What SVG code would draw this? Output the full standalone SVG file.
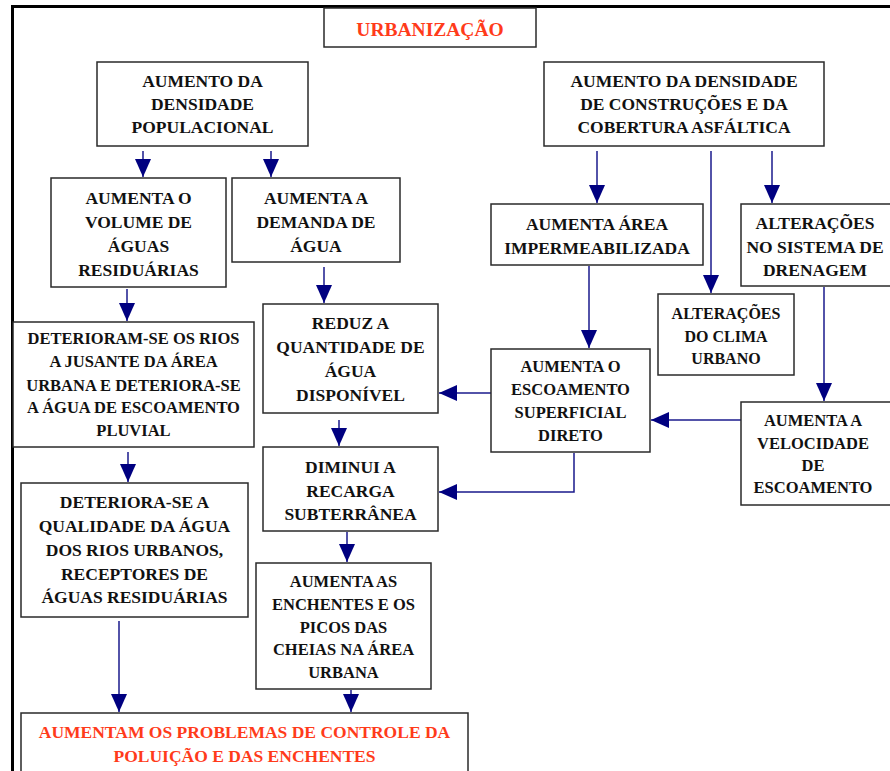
<svg xmlns="http://www.w3.org/2000/svg" width="890" height="771" viewBox="0 0 890 771">
<style>
  .box { fill: #ffffff; stroke: #2a2a2a; stroke-width: 1.5; }
  .t { font-family: "Liberation Serif", "Times New Roman", serif; font-weight: bold; font-size: 17.5px; fill: #111111; text-anchor: middle; }
  .s { font-size: 16.5px; }
  .xs { font-size: 16px; }
  .red { fill: #ff3b1a; }
  .conn { stroke: #1a1a8c; stroke-width: 1.5; fill: none; marker-end: url(#arr); }
  .frame { stroke: #000000; stroke-width: 3; fill: none; }
</style>
<defs>
  <marker id="arr" viewBox="0 0 18 16" refX="18" refY="8" markerWidth="18" markerHeight="16" markerUnits="userSpaceOnUse" orient="auto">
    <path d="M0,0 L18,8 L0,16 Z" fill="#000080"/>
  </marker>
</defs>
<rect width="890" height="771" fill="#ffffff"/>
<g id="frame">
  <path class="frame" d="M12.5,771 V6.5 H890"/>
</g>

<g id="connectors">
  <line class="conn" x1="143" y1="151" x2="143" y2="177"/>
  <line class="conn" x1="271" y1="151" x2="271" y2="177"/>
  <line class="conn" x1="127" y1="289" x2="127" y2="321"/>
  <line class="conn" x1="324" y1="267" x2="324" y2="303"/>
  <line class="conn" x1="597" y1="151" x2="597" y2="203"/>
  <line class="conn" x1="711" y1="151" x2="711" y2="293"/>
  <line class="conn" x1="772" y1="151" x2="772" y2="203"/>
  <line class="conn" x1="589" y1="266" x2="589" y2="348"/>
  <line class="conn" x1="824" y1="287" x2="824" y2="401"/>
  <line class="conn" x1="741" y1="420" x2="651" y2="420"/>
  <line class="conn" x1="491" y1="393" x2="439" y2="393"/>
  <path class="conn" d="M574,453 V492 H439"/>
  <line class="conn" x1="339" y1="420" x2="339" y2="446"/>
  <line class="conn" x1="128" y1="452" x2="128" y2="482"/>
  <line class="conn" x1="347" y1="532" x2="347" y2="562"/>
  <line class="conn" x1="119" y1="621" x2="119" y2="712"/>
  <line class="conn" x1="351" y1="690" x2="351" y2="712"/>
</g>

<g id="title">
  <rect class="box" x="324" y="8" width="212" height="39"/>
  <text class="t red" x="430" y="36" style="font-size:19.5px">URBANIZAÇÃO</text>
</g>

<g id="densidade-populacional">
  <rect class="box" x="97" y="62" width="211" height="84"/>
  <text class="t" x="202.5" y="87">AUMENTO DA</text>
  <text class="t" x="202.5" y="110">DENSIDADE</text>
  <text class="t" x="202.5" y="133">POPULACIONAL</text>
</g>

<g id="densidade-construcoes">
  <rect class="box" x="544" y="62" width="280" height="84"/>
  <text class="t" x="684" y="87">AUMENTO DA DENSIDADE</text>
  <text class="t" x="684" y="110">DE CONSTRUÇÕES E DA</text>
  <text class="t" x="684" y="133">COBERTURA ASFÁLTICA</text>
</g>

<g id="volume-aguas">
  <rect class="box" x="51" y="178" width="175" height="109"/>
  <text class="t" x="138.5" y="204">AUMENTA O</text>
  <text class="t" x="138.5" y="228">VOLUME DE</text>
  <text class="t" x="138.5" y="252">ÁGUAS</text>
  <text class="t" x="138.5" y="276">RESIDUÁRIAS</text>
</g>

<g id="demanda-agua">
  <rect class="box" x="232" y="178" width="168" height="84"/>
  <text class="t" x="316" y="204">AUMENTA A</text>
  <text class="t" x="316" y="228">DEMANDA DE</text>
  <text class="t" x="316" y="252">ÁGUA</text>
</g>

<g id="area-impermeabilizada">
  <rect class="box" x="491" y="204" width="212" height="61"/>
  <text class="t" x="597" y="230">AUMENTA ÁREA</text>
  <text class="t" x="597" y="254">IMPERMEABILIZADA</text>
</g>

<g id="sistema-drenagem">
  <rect class="box" x="741" y="204" width="160" height="82"/>
  <text class="t" x="815" y="229">ALTERAÇÕES</text>
  <text class="t" x="815" y="253">NO SISTEMA DE</text>
  <text class="t" x="815" y="276">DRENAGEM</text>
</g>

<g id="clima-urbano">
  <rect class="box" x="658" y="294" width="136" height="81"/>
  <text class="t xs" x="726" y="319">ALTERAÇÕES</text>
  <text class="t xs" x="726" y="342">DO CLIMA</text>
  <text class="t xs" x="726" y="364">URBANO</text>
</g>

<g id="escoamento-superficial">
  <rect class="box" x="491" y="349" width="159" height="103"/>
  <text class="t s" x="570.5" y="372">AUMENTA O</text>
  <text class="t s" x="570.5" y="395">ESCOAMENTO</text>
  <text class="t s" x="570.5" y="418">SUPERFICIAL</text>
  <text class="t s" x="570.5" y="441">DIRETO</text>
</g>

<g id="velocidade-escoamento">
  <rect class="box" x="741" y="402" width="160" height="103"/>
  <text class="t s" x="813" y="426">AUMENTA A</text>
  <text class="t s" x="813" y="449">VELOCIDADE</text>
  <text class="t s" x="813" y="471">DE</text>
  <text class="t s" x="813" y="493">ESCOAMENTO</text>
</g>

<g id="reduz-quantidade">
  <rect class="box" x="263" y="304" width="175" height="109"/>
  <text class="t" x="350.5" y="329">REDUZ A</text>
  <text class="t" x="350.5" y="353">QUANTIDADE DE</text>
  <text class="t" x="350.5" y="377">ÁGUA</text>
  <text class="t" x="350.5" y="401">DISPONÍVEL</text>
</g>

<g id="recarga-subterranea">
  <rect class="box" x="263" y="447" width="175" height="84"/>
  <text class="t" x="350.5" y="473">DIMINUI A</text>
  <text class="t" x="350.5" y="497">RECARGA</text>
  <text class="t" x="350.5" y="520">SUBTERRÂNEA</text>
</g>

<g id="deterioram-rios">
  <rect class="box" x="13" y="322" width="241" height="125"/>
  <text class="t s" x="133.5" y="344">DETERIORAM-SE OS RIOS</text>
  <text class="t s" x="133.5" y="367">A JUSANTE DA ÁREA</text>
  <text class="t s" x="133.5" y="391">URBANA E DETERIORA-SE</text>
  <text class="t s" x="133.5" y="413">A ÁGUA DE ESCOAMENTO</text>
  <text class="t s" x="133.5" y="436">PLUVIAL</text>
</g>

<g id="qualidade-agua">
  <rect class="box" x="21" y="483" width="227" height="134"/>
  <text class="t" x="134.5" y="508">DETERIORA-SE A</text>
  <text class="t" x="134.5" y="532">QUALIDADE DA ÁGUA</text>
  <text class="t" x="134.5" y="556">DOS RIOS URBANOS,</text>
  <text class="t" x="134.5" y="580">RECEPTORES DE</text>
  <text class="t" x="134.5" y="603">ÁGUAS RESIDUÁRIAS</text>
</g>

<g id="enchentes-picos">
  <rect class="box" x="256" y="563" width="175" height="126"/>
  <text class="t s" x="343.5" y="587">AUMENTA AS</text>
  <text class="t s" x="343.5" y="610">ENCHENTES E OS</text>
  <text class="t s" x="343.5" y="633">PICOS DAS</text>
  <text class="t s" x="343.5" y="655">CHEIAS NA ÁREA</text>
  <text class="t s" x="343.5" y="678">URBANA</text>
</g>

<g id="problemas-controle">
  <rect class="box" x="21" y="713" width="447" height="70"/>
  <text class="t red" x="244.5" y="738">AUMENTAM OS PROBLEMAS DE CONTROLE DA</text>
  <text class="t red" x="244.5" y="762">POLUIÇÃO E DAS ENCHENTES</text>
</g>
</svg>
